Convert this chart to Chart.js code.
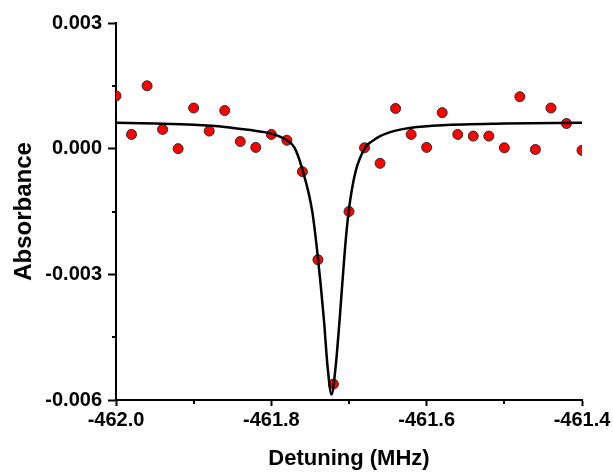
<!DOCTYPE html>
<html>
<head>
<meta charset="utf-8">
<script src="https://cdn.jsdelivr.net/npm/chart.js@4/dist/chart.umd.min.js"></script>
<style>
  html, body { margin: 0; padding: 0; background: #ffffff; }
  #wrap { width: 613px; height: 472px; position: relative; }
</style>
</head>
<body>
<div id="wrap"><canvas id="c" width="613" height="472"></canvas></div>
<script>
// Measured data points: detuning (MHz) and absorbance
const detuning = [-462.00, -461.98, -461.96, -461.94, -461.92, -461.90, -461.88, -461.86, -461.84, -461.82,
                  -461.80, -461.78, -461.76, -461.74, -461.72, -461.70, -461.68, -461.66, -461.64, -461.62,
                  -461.60, -461.58, -461.56, -461.54, -461.52, -461.50, -461.48, -461.46, -461.44, -461.42, -461.40];
const absorbance = [0.00126, 0.00034, 0.00150, 0.00046, 0.00000, 0.00097, 0.00042, 0.00091, 0.00017, 0.00003,
                    0.00034, 0.00020, -0.00055, -0.00265, -0.00562, -0.00150, 0.00002, -0.00035, 0.00096, 0.00034,
                    0.00003, 0.00086, 0.00034, 0.00030, 0.00030, 0.00002, 0.00124, -0.00002, 0.00097, 0.00060, -0.00004];

// Fit curve
const fitDetuning = [-462.00, -461.95, -461.90, -461.86, -461.83, -461.80, -461.78, -461.77, -461.76, -461.7475,
                     -461.741, -461.7325, -461.7274, -461.7225, -461.7174, -461.7119, -461.7054, -461.7003, -461.6916,
                     -461.6787, -461.67, -461.66, -461.64, -461.62, -461.58, -461.50, -461.40];
const fitAbsorbance = [0.00062, 0.00060, 0.00057, 0.00052, 0.00045, 0.00036, 0.00020, 0.00002, -0.00050, -0.00148,
                       -0.00244, -0.00404, -0.00524, -0.00587, -0.00524, -0.00404, -0.00244, -0.00148, -0.00055,
                       0.00004, 0.00018, 0.00030, 0.00043, 0.00050, 0.00056, 0.00060, 0.00062];

// Axis ticks
const xMajorTicks = [-462.0, -461.8, -461.6, -461.4];
const xMinorTicks = [-461.9, -461.7, -461.5];
const yMajorTicks = [0.003, 0.000, -0.003, -0.006];
const yMinorTicks = [0.0015, -0.0015, -0.0045];

const FONT = "'Liberation Sans', Arial, Helvetica, sans-serif";

const minorTicksPlugin = {
  id: 'minorTicks',
  afterDraw(chart) {
    const ctx = chart.ctx;
    const xs = chart.scales.x, ys = chart.scales.y;
    ctx.save();
    ctx.strokeStyle = '#000';
    ctx.lineWidth = 2;
    ctx.beginPath();
    xMinorTicks.forEach(v => {
      const px = Math.round(xs.getPixelForValue(v));
      ctx.moveTo(px, xs.top);
      ctx.lineTo(px, xs.top + 4);
    });
    yMinorTicks.forEach(v => {
      const py = Math.round(ys.getPixelForValue(v));
      ctx.moveTo(ys.right, py);
      ctx.lineTo(ys.right - 4, py);
    });
    ctx.stroke();
    ctx.restore();
  }
};

new Chart(document.getElementById('c'), {
  type: 'scatter',
  data: {
    datasets: [
      {
        label: 'Fit',
        data: fitDetuning.map((x, i) => ({ x: x, y: fitAbsorbance[i] })),
        showLine: true,
        borderColor: '#000000',
        borderWidth: 2.5,
        pointRadius: 0,
        cubicInterpolationMode: 'monotone',
        fill: false
      },
      {
        label: 'Data',
        data: detuning.map((x, i) => ({ x: x, y: absorbance[i] })),
        showLine: false,
        pointRadius: 5,
        pointBackgroundColor: '#ff0000',
        pointBorderColor: '#2a2a2a',
        pointBorderWidth: 1,
        clip: 0
      }
    ]
  },
  options: {
    responsive: false,
    animation: false,
    devicePixelRatio: 1,
    layout: { padding: { left: 0, right: 31, top: 23, bottom: 0 } },
    plugins: { legend: { display: false }, tooltip: { enabled: false } },
    scales: {
      x: {
        type: 'linear',
        min: -462.0,
        max: -461.4,
        afterBuildTicks(scale) { scale.ticks = xMajorTicks.map(v => ({ value: v })); },
        afterFit(scale) { scale.height = 72; },
        border: { display: true, color: '#000', width: 2 },
        grid: { drawOnChartArea: false, drawTicks: true, tickLength: 6, tickColor: '#000', tickWidth: 2 },
        ticks: {
          color: '#000',
          padding: 2,
          maxRotation: 0,
          font: { family: FONT, size: 20, weight: 'bold' },
          callback: v => Number(v).toFixed(1)
        },
        title: {
          display: true,
          text: 'Detuning (MHz)',
          color: '#000',
          font: { family: FONT, size: 22, weight: 'bold' },
          padding: { top: 0, bottom: 0 }
        }
      },
      y: {
        type: 'linear',
        min: -0.006,
        max: 0.003,
        afterBuildTicks(scale) { scale.ticks = yMajorTicks.map(v => ({ value: v })); },
        afterFit(scale) { scale.width = 116; },
        border: { display: true, color: '#000', width: 2 },
        grid: { drawOnChartArea: false, drawTicks: true, tickLength: 8, tickColor: '#000', tickWidth: 2 },
        ticks: {
          color: '#000',
          padding: 6,
          font: { family: FONT, size: 20, weight: 'bold' },
          callback: v => (Math.abs(v) < 1e-9 ? 0 : Number(v)).toFixed(3)
        },
        title: {
          display: true,
          text: 'Absorbance',
          color: '#000',
          font: { family: FONT, size: 24, weight: 'bold' },
          padding: { top: 10, bottom: 0 }
        }
      }
    }
  },
  plugins: [minorTicksPlugin]
});
</script>
</body>
</html>
